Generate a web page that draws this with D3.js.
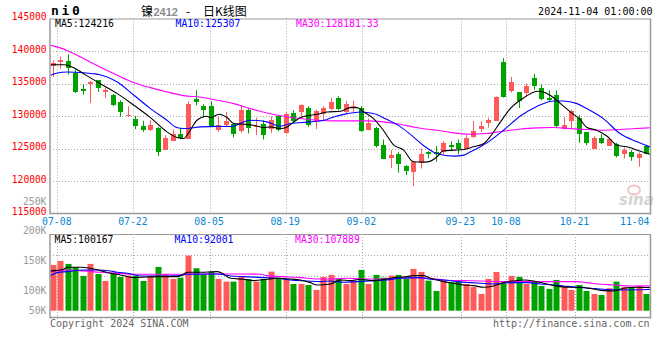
<!DOCTYPE html>
<html><head><meta charset="utf-8">
<script src="https://cdn.jsdelivr.net/npm/d3@7"></script>
<style>body{margin:0;background:#fff} svg{display:block}</style>
</head><body><svg id="c" width="660" height="360"></svg>
<script>
// ---------- data ----------
const dates = ["07-05","07-08","07-09","07-10","07-11","07-12","07-15","07-16","07-17","07-18","07-19",
"07-22","07-23","07-24","07-25","07-26","07-29","07-30","07-31","08-01","08-02",
"08-05","08-06","08-07","08-08","08-09","08-12","08-13","08-14","08-15","08-16",
"08-19","08-20","08-21","08-22","08-23","08-26","08-27","08-28","08-29","08-30",
"09-02","09-03","09-04","09-05","09-06","09-09","09-10","09-11","09-12","09-13",
"09-18","09-19","09-20","09-23","09-24","09-25","09-26","09-27","09-30",
"10-08","10-09","10-10","10-11","10-14","10-15","10-16","10-17","10-18",
"10-21","10-22","10-23","10-24","10-25","10-28","10-29","10-30","10-31","11-01","11-04"];
const openP = [137640,138350,138400,136660,134100,134980,135490,133700,133290,132160,
129960,129500,128430,127810,128170,124750,126130,127300,126430,132570,
131500,131500,127920,128580,128840,127710,130880,128330,128730,128070,
129960,127460,130530,130630,131290,129250,130270,131140,132830,130630,
131290,131290,127810,128170,125510,123570,124130,122290,121420,122700,
124490,124490,124490,125510,125920,125000,126790,128070,128940,129250,
138300,133800,133700,133590,135850,134360,132780,133190,128070,129250,
129760,127560,125000,126640,125410,125670,124230,124490,123570,125360];
const closeP = [138150,138600,137430,133650,133850,135180,134360,134050,131650,130630,
130220,128480,127810,128580,124490,126690,127300,126540,131910,132160,
130880,128330,128680,129250,127200,130880,128170,128480,127150,129450,
127920,130370,129250,131650,128680,130730,131290,132160,131140,131800,
131500,127710,128940,125360,123360,123980,122600,121570,122950,124230,
124080,124230,125920,125260,124850,126690,127660,128530,129450,132930,
132930,135230,132320,134570,134570,132670,132420,128430,128680,130780,
127300,125770,126690,125770,126430,123820,124750,123720,124130,124230];
const highP = [138560,139170,139480,137120,134870,135380,135490,134360,133390,132420,
131500,130010,129250,129350,128330,127050,127920,128170,132260,133950,
131800,132260,129860,130630,128940,131650,131140,129760,129350,129960,
130120,130630,130880,131800,131500,130990,131500,132780,133030,132320,
132320,131500,129600,128330,126380,124750,124490,122440,123110,125000,
124600,125360,126130,126130,126380,127050,129250,129200,129710,133030,
138910,136000,133700,134980,136510,134820,133950,133950,129860,130990,
130120,127560,126890,127200,126540,125870,125150,124750,124390,125560];
const lowP = [136000,137280,136360,133540,133290,132010,133700,132780,131500,129860,
129860,127970,127560,127700,123820,124750,126130,126430,126430,131650,
129760,128330,127560,128430,126690,127410,127300,127050,126380,127410,
127660,127300,128940,129760,128330,127970,129250,130880,130880,130470,
130630,127560,127810,125150,123360,122030,121270,120910,119220,121930,
123470,122950,124130,124590,124080,125000,126690,127560,128220,129250,
132830,133590,131240,132930,134050,132420,132160,128220,127920,127920,
125870,125510,125000,125670,125410,123620,123470,123110,122190,124080];
const volume = [198800,216200,203100,188800,150900,203100,159600,129200,162700,146600,
152300,152300,129200,150900,190100,159600,137900,143600,239300,184400,
158300,169700,137900,126200,126200,150900,136600,126200,137900,169700,
143600,133500,116100,116100,111800,90000,146600,155300,137900,116100,
130500,177000,116100,155300,143600,152300,155300,137900,181400,168300,
130500,85700,133500,123500,130500,116100,103100,72600,137900,168300,
116100,150900,146600,116100,126200,107400,94400,133500,103100,90000,
111800,85700,72600,68300,97400,126200,103100,103100,107400,72600];
// moving averages: [day position, value]
const ma5 = [[-0.3,137890],[1.5,137890],[2.8,137430],[4.1,136509],[6.3,134975],[8.6,133440],[10.8,131650],
[13.0,129757],[15.2,127558],[16.55,126688],[17.4,126535],[18.3,127813],[19.2,129348],[20.5,129962],[21.0,129757],
[22.1,130269],[23.2,129757],[24.1,128836],[25.4,128734],[26.7,128580],[28.1,128222],[29.0,128325],[30.3,128069],
[31.2,128325],[32.1,129092],[33.0,129757],[34.3,130115],[35.2,130269],[36.5,130627],[38.3,130729],[39.6,131292],
[40.5,131292],[41.4,130627],[42.7,129604],[44.0,127813],[45.4,125512],[46.7,124745],[48.0,122954],[49.5,122900],
[50.3,123057],[51.15,123722],[52.0,124643],[53.4,124745],[54.7,124847],[56.0,125256],[57.4,125768],[58.2,126790],
[59.6,129092],[60.9,131139],[62.2,132417],[63.6,133440],[64.5,133798],[65.3,133696],[66.2,133185],[67.6,131906],
[68.9,130627],[70.2,129450],[71.1,128222],[72.4,127813],[73.8,126893],[75.1,125512],[76.4,125256],[77.8,124745],[79.5,124100]];
const ma10 = [[-0.3,136254],[0.6,136612],[1.9,136765],[4.1,136663],[5.4,136509],[6.3,136356],[8.6,135231],
[10.8,133185],[13.0,131139],[15.2,129348],[16.5,128222],[17.4,128069],[19.7,128325],[21.9,128400],[23.6,128376],
[26.3,129348],[28.5,129092],[30.3,128427],[31.6,128836],[34.3,129092],[36.1,129348],[37.4,129860],[39.2,130371],
[41.0,130627],[42.7,130371],[44.5,129450],[46.3,128325],[48.0,126790],[49.3,125500],[51.1,124233],[53.4,123824],
[54.7,123977],[55.6,124489],[57.8,125870],[60.0,127813],[62.2,129962],[64.5,131497],[66.7,132315],[68.0,132315],
[69.8,131906],[71.1,131139],[73.3,129604],[75.5,127302],[77.8,126023],[79.5,125250]];
const ma30 = [[-0.3,140900],[1.9,140090],[3.7,139067],[6.3,137532],[8.6,136254],[10.8,135128],[13.0,134361],
[15.2,133696],[17.4,133134],[19.7,132880],[21.9,132417],[24.1,131906],[26.3,131139],[28.5,130474],[30.7,129962],
[32.9,129604],[35.2,129348],[37.4,129246],[39.6,129246],[41.8,129246],[44.0,129092],[46.2,128734],[48.4,128222],
[50.2,127916],[51.1,127813],[53.3,127405],[55.5,127200],[57.7,127302],[59.9,127660],[62.1,127967],[64.4,128171],
[66.6,128222],[68.8,128069],[71.0,127916],[73.2,127813],[75.4,127916],[77.6,128069],[79.5,128181]];
const vma5 = [[-0.3,172700],[1.47,180000],[1.91,188700],[3.69,188700],[5.0,184300],[6.35,174100],[7.68,162600],
[9.0,155300],[10.78,143700],[12.56,146600],[13.89,148000],[16.55,148000],[17.44,159600],[17.88,166900],[19.66,166900],
[21.87,169800],[22.54,162600],[23.65,140800],[25.42,136500],[26.75,130600],[28.53,136500],[29.86,140800],[31.63,137900],
[32.96,133500],[34.3,121900],[35.18,111800],[36.96,116100],[38.28,133500],[39.6,130600],[40.94,136500],[42.72,130600],
[44.49,137900],[45.82,145200],[47.15,148000],[48.04,152400],[49.37,152400],[50.26,140800],[51.15,133500],[52.03,126300],
[53.36,119100],[54.69,111800],[56.02,108900],[57.36,101700],[58.69,107400],[60.02,121900],[61.35,129200],[62.68,133500],
[64.01,129200],[65.78,116100],[67.56,104500],[68.89,101700],[70.22,101700],[71.99,94400],[73.32,87100],[74.66,85700],
[75.99,97300],[77.76,101700],[79.5,100167]];
const vma10 = [[-0.3,152400],[0.58,165400],[1.91,169800],[4.13,177000],[5.9,177000],[7.68,172700],[8.57,166900],
[9.9,162600],[11.67,150900],[15.22,150900],[16.99,152400],[17.88,158200],[21.87,159600],[23.65,150900],[25.42,148000],
[28.08,143700],[29.86,140800],[31.63,133500],[33.85,129200],[35.63,126300],[36.95,129200],[38.72,123400],[40.5,126300],
[42.72,130600],[44.49,133500],[46.27,140800],[48.93,143700],[50.26,136500],[52.03,133500],[53.81,126300],[55.58,121900],
[56.91,119100],[58.69,116100],[60.02,119100],[61.35,121900],[63.12,121900],[64.9,116100],[66.67,111800],[68.0,107400],
[69.78,101700],[71.55,97300],[73.32,93000],[75.1,90000],[79.5,92001]];
const vma30 = [[-0.3,169800],[1.91,177000],[4.13,172700],[6.35,166900],[8.57,162600],[10.78,158200],[17.44,158200],
[19.66,159600],[24.09,159600],[27.64,158200],[28.53,152400],[30.75,148000],[32.96,143700],[35.18,137900],[36.96,137900],
[39.17,140800],[41.39,137900],[43.6,137900],[45.82,140800],[48.04,143700],[50.26,140800],[52.03,133500],[54.69,130600],
[56.91,129200],[59.13,126300],[69.78,126300],[71.11,121900],[72.44,116100],[74.66,111800],[76.88,107400],[79.5,107889]];
const priceTicks = [145000,140000,135000,130000,125000,120000,115000];
const dateTicks = ["07-08","07-22","08-05","08-19","09-02","09-23","10-08","10-21","11-04"];
const volTicks = [250000,200000,150000,100000,50000];
const volTickLabels = ["250K","200K","150K","100K","50K"];

// ---------- layout ----------
const L = 50, R = 650, T = 18.5, B = 213.5, VT = 234, VB = 317.5;
const RED = "#ff5a5a", GREEN = "#00a200", GRID = "#a8a8a8", BORDER = "#9a9a9a";
const MONO = "'DejaVu Sans Mono', 'Liberation Mono', monospace";
const CJK = "'Noto Sans CJK SC', sans-serif";

const svg = d3.select("#c");
const x = d3.scaleLinear().domain([0, dates.length - 1]).range([52.8, 646.2]);
const xg = d3.scaleLinear().domain([1, 69]).range([57.3, 575]);
const y = d3.scaleLinear().domain([115000, 145000]).range([B, T]);
const vy = d3.scaleLinear().domain([0, 333000]).range([310.7, VT]);
const vLab = d3.scaleLinear().domain([100000, 200000]).range([293.6, 234.2]);
const snap = v => Math.round(v) + 0.5;

const defs = svg.append("defs");
defs.append("clipPath").attr("id", "clipM").append("rect").attr("x", L).attr("y", T).attr("width", R - L).attr("height", B - T);
defs.append("clipPath").attr("id", "clipV").append("rect").attr("x", L).attr("y", VT).attr("width", R - L).attr("height", VB - VT);

// ---------- grids ----------
const g = svg.append("g");
const gx = dateTicks.map(t => Math.min(xg(dates.indexOf(t)), R)).filter(v => v < R - 1);
g.selectAll("line.vgm").data(gx).join("line").attr("x1", d => snap(d)).attr("x2", d => snap(d))
  .attr("y1", T).attr("y2", B).attr("stroke", GRID).attr("stroke-dasharray", "1,2");
g.selectAll("line.vgv").data(gx).join("line").attr("x1", d => snap(d)).attr("x2", d => snap(d))
  .attr("y1", VT).attr("y2", VB + 3).attr("stroke", GRID).attr("stroke-dasharray", "1,2");
g.selectAll("line.hgm").data(priceTicks.slice(1, -1)).join("line")
  .attr("x1", L).attr("x2", R).attr("y1", d => snap(y(d))).attr("y2", d => snap(y(d)))
  .attr("stroke", GRID).attr("stroke-dasharray", "1,2");
g.selectAll("line.hgv").data([1, 2, 3]).join("line")
  .attr("x1", L).attr("x2", R).attr("y1", k => snap(VT + (VB - VT) * k / 4)).attr("y2", k => snap(VT + (VB - VT) * k / 4))
  .attr("stroke", GRID).attr("stroke-dasharray", "1,2");

// ---------- watermark ----------
svg.append("ellipse").attr("cx", 634).attr("cy", 190).attr("rx", 6).attr("ry", 4.5)
  .attr("fill", "none").attr("stroke", "#f2c4c4").attr("stroke-width", 2);
svg.append("text").attr("x", 619).attr("y", 205).attr("font-family", "'DejaVu Sans', sans-serif")
  .attr("font-size", 15).attr("font-style", "italic").attr("font-weight", "bold").attr("fill", "#d4d4d4").text("sina");

// ---------- candles ----------
const idx = d3.range(dates.length);
const isUp = i => closeP[i] >= openP[i];
const gc = svg.append("g").attr("clip-path", "url(#clipM)");
gc.selectAll("line.wick").data(idx).join("line")
  .attr("x1", i => snap(x(i))).attr("x2", i => snap(x(i)))
  .attr("y1", i => y(highP[i])).attr("y2", i => y(lowP[i]))
  .attr("stroke", i => isUp(i) ? RED : GREEN).attr("stroke-width", 1);
gc.selectAll("rect.body").data(idx).join("rect")
  .attr("x", i => Math.round(x(i)) - 2).attr("width", 5)
  .attr("y", i => y(Math.max(openP[i], closeP[i])))
  .attr("height", i => Math.max(1, Math.abs(y(openP[i]) - y(closeP[i]))))
  .attr("fill", i => isUp(i) ? RED : GREEN).attr("shape-rendering", "crispEdges");

const lineM = d3.line().x(d => x(d[0])).y(d => y(d[1])).curve(d3.curveMonotoneX);
[[ma30, "#ff00ff"], [ma10, "#0000ff"], [ma5, "#000000"]].forEach(([d, c]) => {
  gc.append("path").attr("d", lineM(d)).attr("fill", "none").attr("stroke", c).attr("stroke-width", 1.1);
});

// ---------- volume ----------
const gv = svg.append("g").attr("clip-path", "url(#clipV)");
gv.selectAll("rect.vol").data(idx).join("rect")
  .attr("x", i => Math.round(x(i)) - 2.5).attr("width", 6)
  .attr("y", i => vy(volume[i])).attr("height", i => vy(0) - vy(volume[i]))
  .attr("fill", i => isUp(i) ? RED : GREEN);
const lineV = d3.line().x(d => x(d[0])).y(d => vy(d[1])).curve(d3.curveMonotoneX);
[[vma30, "#ff00ff"], [vma10, "#0000ff"], [vma5, "#000000"]].forEach(([d, c]) => {
  gv.append("path").attr("d", lineV(d)).attr("fill", "none").attr("stroke", c).attr("stroke-width", 1.1);
});

// ---------- borders ----------
function box(top, bot) {
  svg.append("line").attr("x1", L).attr("x2", R).attr("y1", top + 0.5).attr("y2", top + 0.5).attr("stroke", BORDER);
  svg.append("line").attr("x1", R + 0.5).attr("x2", R + 0.5).attr("y1", top).attr("y2", bot + 1).attr("stroke", BORDER).attr("stroke-width", 1.5);
  svg.append("line").attr("x1", L).attr("x2", R + 1).attr("y1", bot).attr("y2", bot).attr("stroke", BORDER).attr("stroke-width", 1.5);
  svg.append("line").attr("x1", L).attr("x2", L).attr("y1", top).attr("y2", bot + 1).attr("stroke", BORDER).attr("stroke-width", 1.5);
}
box(T, B);
box(VT, VB);

// ---------- axis labels ----------
svg.append("g").selectAll("text").data(priceTicks).join("text")
  .attr("x", 46.5).attr("y", d => y(d) + 1.5).attr("text-anchor", "end")
  .attr("font-family", MONO).attr("font-size", 9.6).attr("fill", "#ff0000").text(d => d);
svg.append("g").selectAll("text").data(volTicks).join("text")
  .attr("x", 46.5).attr("y", d => Math.min(vLab(d), 313.6)).attr("text-anchor", "end")
  .attr("font-family", MONO).attr("font-size", 9.8).attr("fill", "#999").text((d, i) => volTickLabels[i]);
svg.append("g").selectAll("text").data(dateTicks).join("text")
  .attr("x", t => { const p = xg(dates.indexOf(t)); return p > R - 20 ? R - 0.5 : p - 0.5; })
  .attr("y", 225).attr("text-anchor", t => xg(dates.indexOf(t)) > R - 20 ? "end" : "middle")
  .attr("font-family", MONO).attr("font-size", 9.8).attr("fill", "#0a86d0").text(t => t);

// ---------- legends ----------
const leg = (yy, items) => items.forEach(([tx, xx, c]) =>
  svg.append("text").attr("x", xx).attr("y", yy).attr("font-family", MONO).attr("font-size", 9.8).attr("fill", c).text(tx));
leg(27, [["MA5:124216", 55, "#000"], ["MA10:125307", 175.5, "#0000ff"], ["MA30:128181.33", 296, "#ff00ff"]]);
leg(242.5, [["MA5:100167", 54.5, "#000"], ["MA10:92001", 174.5, "#0000ff"], ["MA30:107889", 295, "#ff00ff"]]);

// ---------- header ----------
svg.append("text").attr("x", 51).attr("y", 15).attr("font-family", MONO).attr("font-weight", "bold")
  .attr("font-size", 13).attr("letter-spacing", 2.7).attr("fill", "#000").text("ni0");
const title = svg.append("text").attr("y", 15.5).attr("font-family", CJK).attr("font-size", 12).attr("fill", "#000");
title.append("tspan").attr("x", 141).text("镍");
title.append("tspan").attr("x", 153.5).attr("font-family", "'Liberation Sans', sans-serif").attr("font-weight", "bold")
  .attr("font-size", 11).attr("fill", "#8c8c8c").text("2412");
title.append("tspan").attr("x", 186).text("-");
title.append("tspan").attr("x", 203).text("日K线图");
svg.append("text").attr("x", 652.5).attr("y", 15).attr("text-anchor", "end").attr("font-family", MONO)
  .attr("font-size", 10).attr("fill", "#000").text("2024-11-04 01:00:00");

// ---------- footer ----------
svg.append("text").attr("x", 50).attr("y", 326.5).attr("font-family", MONO).attr("font-size", 10)
  .attr("fill", "#666").text("Copyright 2024 SINA.COM");
svg.append("text").attr("x", 649.5).attr("y", 326.5).attr("text-anchor", "end").attr("font-family", MONO)
  .attr("font-size", 10).attr("fill", "#666").text("http://finance.sina.com.cn");
</script></body></html>
